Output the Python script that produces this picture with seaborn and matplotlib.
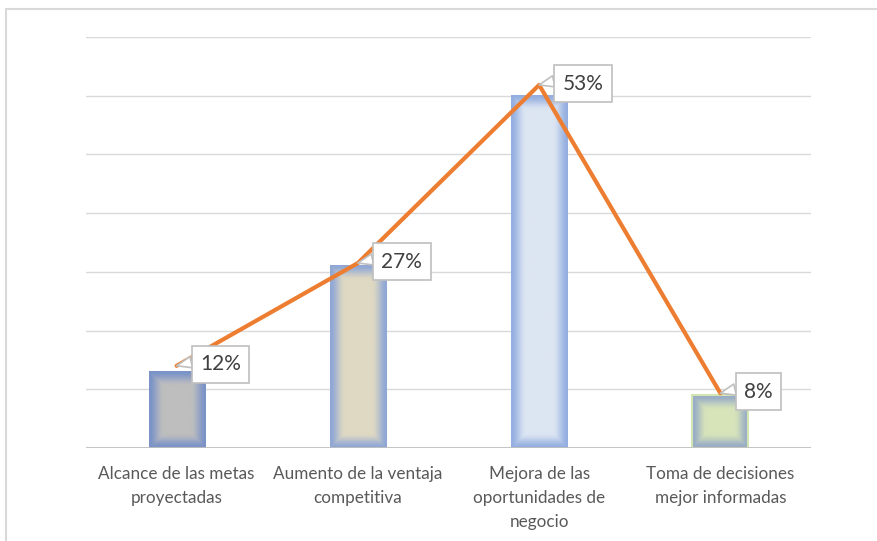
import numpy as np
import pandas as pd
import seaborn as sns
import matplotlib as mpl
import matplotlib.pyplot as plt
from matplotlib.colors import to_rgb
from matplotlib.lines import Line2D

categorias = ["Alcance de las metas\nproyectadas",
              "Aumento de la ventaja\ncompetitiva",
              "Mejora de las\noportunidades de\nnegocio",
              "Toma de decisiones\nmejor informadas"]
frecuencia = [13, 31, 60, 9]      # barras, eje principal
porcentaje = [12, 27, 53, 8]      # linea, eje secundario (%)
etiquetas = ["12%", "27%", "53%", "8%"]

color_centro = ['#BEBEBE', '#DFD9C3', '#DCE5F2', '#D7E4BA']
color_borde = ['#7A92C8', '#8FA7D6', '#93AEE0', '#96AAC6']

sns.set_theme(style="white")
plt.rcParams['font.family'] = ['Lato', 'DejaVu Sans']

fig = plt.figure(figsize=(8.77, 5.41), dpi=100)
ax = fig.add_axes([86 / 877, 1 - 448 / 541, (811 - 86) / 877, (448 - 37) / 541])

df = pd.DataFrame({'cat': categorias, 'n': frecuencia})
sns.barplot(data=df, x='cat', y='n', hue='cat', palette=color_centro,
            width=0.31, saturation=1, legend=False, ax=ax)
ax.set_xlim(-0.5, 3.5)
ax.set_ylim(0, 70)

# relleno degradado (centro -> borde) dentro de cada barra
px_x = ax.bbox.width / 4.0
px_y = ax.bbox.height / 70.0
rampa = 15.0
barras = sorted(ax.patches, key=lambda p: p.get_x())
for i, p in enumerate(barras):
    x0, y0, w, h = p.get_x(), p.get_y(), p.get_width(), p.get_height()
    wpx, hpx = w * px_x, h * px_y
    nx, ny = max(int(wpx), 2), max(int(hpx), 2)
    xs = (np.arange(nx) + 0.5) * wpx / nx
    ys = (np.arange(ny) + 0.5) * hpx / ny
    dx = np.minimum(xs, wpx - xs)
    dy = np.minimum(ys, hpx - ys)
    d = np.minimum(dx[None, :], dy[:, None])
    t = np.clip(d / rampa, 0, 1)
    t = t * t * (3 - 2 * t)
    c0 = np.array(to_rgb(color_borde[i]))
    c1 = np.array(to_rgb(color_centro[i]))
    img = c0 + (c1 - c0) * t[..., None]
    ax.imshow(img, extent=(x0, x0 + w, y0, y0 + h), origin='lower',
              aspect='auto', interpolation='bilinear', zorder=2)
    p.set_facecolor('none')
    p.set_zorder(2.5)
    if i == 3:
        p.set_edgecolor('#D4E5B4')
        p.set_linewidth(1.5)
    else:
        p.set_linewidth(0)

ax.set_xlim(-0.5, 3.5)
ax.set_ylim(0, 70)
ax.set_yticks(range(0, 71, 10))
ax.yaxis.grid(True, color='#D9D9D9', lw=1)
ax.set_axisbelow(True)
ax.axhline(0, color='#BFBFBF', lw=2, zorder=3)
for s in ax.spines.values():
    s.set_visible(False)
ax.set_yticklabels([])
ax.tick_params(axis='y', length=0)
ax.tick_params(axis='x', length=0, pad=13, labelsize=12.3, labelcolor='#595959')
for t in ax.get_xticklabels():
    t.set_linespacing(1.6)
ax.set_xlabel('')
ax.set_ylabel('')

# linea de porcentajes en eje secundario
ax2 = ax.twinx()
sns.lineplot(x=np.arange(len(categorias)), y=porcentaje, color='#ED7D31',
             lw=3, ax=ax2)
ax2.set_ylim(0, 60)
ax2.set_yticks([])
ax2.set_ylabel('')
for s in ax2.spines.values():
    s.set_visible(False)

for i, (v, lab) in enumerate(zip(porcentaje, etiquetas)):
    ax2.annotate(lab, xy=(i, v), xytext=(17, 1), textcoords='offset points',
                 ha='left', va='center', fontsize=15, color='#404040',
                 bbox=dict(boxstyle='square,pad=0.4', fc='white', ec='#BFBFBF', lw=1.2),
                 arrowprops=dict(arrowstyle='wedge,tail_width=0.55,shrink_factor=0.5',
                                 fc='white', ec='#BFBFBF', lw=1.2, relpos=(0, 0.72),
                                 shrinkA=0, shrinkB=0),
                 annotation_clip=False, zorder=5)

# marco del grafico
fig.add_artist(Line2D([6 / 877, 6 / 877], [0, 1 - 8.5 / 541], color='#D9D9D9',
                      lw=1.5, transform=fig.transFigure))
fig.add_artist(Line2D([6 / 877, 1], [1 - 8.5 / 541, 1 - 8.5 / 541], color='#D9D9D9',
                      lw=1.5, transform=fig.transFigure))

fig.savefig('out.png', dpi=100)
